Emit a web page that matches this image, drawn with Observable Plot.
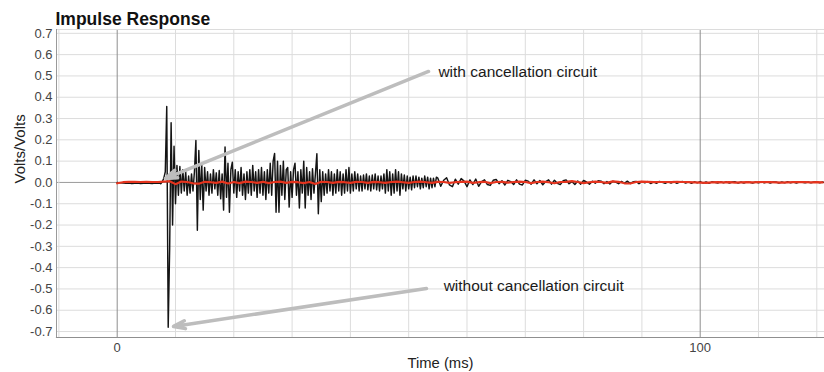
<!DOCTYPE html>
<html>
<head>
<meta charset="utf-8">
<script src="https://cdn.jsdelivr.net/npm/d3@7"></script>
<script src="https://cdn.jsdelivr.net/npm/@observablehq/plot@0.6"></script>
<style>
  html, body { margin: 0; padding: 0; background: #fff; }
</style>
</head>
<body>
<div id="chart"></div>
<script>
// ---- Data ----
const title = "Impulse Response";
const yLabel = "Volts/Volts";
const xLabel = "Time (ms)";
const yTicks = [-0.7, -0.6, -0.5, -0.4, -0.3, -0.2, -0.1, 0, 0.1, 0.2, 0.3, 0.4, 0.5, 0.6, 0.7];
const xGrid = [-10, 10, 20, 30, 40, 50, 60, 70, 80, 90, 110, 120];
const xMajor = [0, 100];
const xTickLabels = [0, 100];

// Without cancellation circuit (black): sampled segments
const noCancelEarlyStart = 0, noCancelEarlyStep = 0.5;
const noCancelEarly = [0, -0.002, -0.003, -0.004, -0.003, -0.005, -0.004, -0.003, -0.005, -0.004, -0.003, -0.004, -0.005, -0.003];

const noCancelMainStart = 7, noCancelMainStep = 0.25;
const noCancelMain = [
  -0.004, -0.003, -0.006, 0.004,
  0.02, 0.05, 0.357, -0.68,
  -0.31, 0.28, -0.2, 0.17,
  -0.1, 0.08, -0.06, 0.075,
  -0.05, 0.06, -0.04, 0.05,
  -0.06, 0.03, -0.05, 0.04,
  -0.04, 0.05, 0.197, -0.225,
  0.15, -0.08, 0.09, -0.13,
  0.07, -0.04, 0.05, -0.06,
  0.04, -0.05, 0.06, -0.03,
  0.045, -0.06, 0.056, -0.077,
  0.04, -0.13, 0.166, -0.07,
  0.09, -0.14, 0.06, 0.095,
  -0.05, 0.06, -0.07, 0.05,
  -0.04, 0.07, -0.06, 0.04,
  -0.08, 0.05, -0.05, 0.06,
  -0.06, 0.08, -0.04, 0.05,
  -0.07, 0.06, -0.05, 0.07,
  -0.06, 0.05, -0.08, 0.06,
  -0.05, 0.09, -0.06, 0.1,
  0.136, -0.14, 0.1, -0.14,
  0.08, -0.06, 0.1, -0.08,
  0.06, 0.07, -0.116, 0.05,
  -0.07, 0.06, 0.09, -0.06,
  0.05, -0.12, 0.06, -0.05,
  0.1, -0.12, 0.07, -0.06,
  0.05, -0.08, 0.064, -0.05,
  0.04, 0.135, -0.147, 0.06,
  -0.09, 0.05, -0.06, 0.04,
  -0.05, 0.06, -0.04, 0.05,
  -0.06, 0.04, -0.05, 0.06,
  -0.04, 0.05, -0.06, 0.04,
  -0.05, 0.06, -0.04, 0.07,
  -0.05, 0.04, -0.04, 0.05,
  -0.03, 0.04, -0.04, 0.03,
  -0.04, 0.035, -0.03, 0.04,
  -0.035, 0.03, -0.04, 0.035,
  -0.03, 0.04, -0.035, 0.03,
  -0.04, 0.03, -0.03, 0.04,
  -0.05, 0.06, -0.04, 0.05,
  -0.06, 0.04, -0.05, 0.06,
  -0.04, 0.05, -0.06, 0.04,
  -0.03, 0.035, -0.04, 0.03,
  -0.03, 0.025, -0.035, 0.03,
  -0.025, 0.03, -0.02, 0.025,
  -0.03, 0.02, -0.025, 0.03,
  -0.02, 0.025, -0.03, 0.02,
  -0.025, 0.02, -0.02, 0.025
];

const noCancelTailStart = 55, noCancelTailStep = 0.5;
const noCancelTail = [
  0.02, -0.018, 0.01, 0.022, -0.012, -0.02, 0.015, -0.008,
  0.018, 0.006, -0.02, 0.012, -0.01, 0.016, -0.018, 0.004,
  0.012, -0.01, -0.014, 0.01, 0.014, -0.006, 0.008, -0.012,
  0.01, 0.004, -0.01, 0.012, -0.008, -0.012, 0.01, 0.006,
  -0.008, 0.012, -0.006, 0.009, -0.011, 0.004, 0.012, -0.008,
  0.01, -0.004, -0.01, 0.008, 0.012, -0.006, 0.004, -0.01,
  0.007, -0.008, 0.009, 0.002, -0.008, 0.006, -0.004, 0.008,
  0.006, -0.006, 0.004, -0.007, 0.006, 0.002, -0.006, 0.005,
  -0.004, 0.006, -0.005, 0.003, 0.005, -0.006, 0.004, -0.002,
  0.004, -0.005, 0.003, -0.004, 0.005, 0.001, -0.004, 0.003,
  -0.003, 0.004, -0.004, 0.002, 0.004, -0.003, 0.003, -0.004,
  0.003, -0.002, 0.004, -0.003, 0.002, -0.004, 0.003, 0.001,
  -0.003, 0.003, -0.002, 0.003, -0.003, 0.002, 0.003, -0.003,
  0.002, -0.003, 0.003, 0.001, -0.003, 0.002, -0.002, 0.003,
  -0.002, 0.003, -0.003, 0.002, 0.002, -0.003, 0.002, -0.002,
  0.003, -0.002, 0.002, -0.003, 0.002, 0.001, -0.002, 0.002,
  -0.002, 0.002, 0.003, -0.002, 0.002, -0.002
];

// With cancellation circuit (red): one sample per ms from 0 ms
const withCancelStart = 0, withCancelStep = 1;
const withCancel = [
  -0.004, 0.001, 0.003, 0.003, 0.002, 0.003, 0.002, 0.002, 0.004, 0.006,
  -0.008, 0.004, 0.002, -0.004, -0.006, 0.003, 0.001, -0.002, 0.004, -0.005,
  0.002, -0.003, 0.004, 0.002, -0.002, 0.003, -0.003, 0.002, 0.004, -0.002,
  0.003, 0.001, -0.003, 0.002, -0.007, 0.003, 0.002, -0.002, 0.003, 0.001,
  -0.002, 0.003, 0.002, -0.002, 0.003, 0.001, -0.002, 0.002, 0.004, 0.001,
  -0.002, 0.002, 0.004, 0.001, -0.002, 0.003, 0.002, -0.002, 0.001, 0.003,
  0.004, -0.002, 0.001, 0.003, -0.003, 0.002, 0.003, -0.001, 0.002, 0.004,
  0.002, -0.003, 0.002, 0.004, 0.001, -0.004, 0.002, 0.003, 0.006, 0.002,
  -0.003, 0.001, 0.004, 0.002, -0.002, 0.005, 0.003, -0.004, -0.005, 0.002,
  0.004, 0.003, 0.001, 0.002, 0.002, 0.001, 0.003, 0.002, 0.001, 0.0,
  -0.001, -0.002, 0.0, 0.001, 0.0, 0.001, -0.001, 0.0, 0.001, 0.0,
  0.001, 0.002, 0.001, 0.0, -0.001, 0.0, 0.001, 0.002, 0.001, 0.0, 0.001, 0.0
];

// Annotations
const annoText = ["with cancellation circuit", "without cancellation circuit"];
const annoTextX = [55.1, 56.0];
const annoTextY = [0.52, -0.488];
const arrowX1 = [53.4, 53.05];
const arrowY1 = [0.521, -0.498];
const arrowX2 = [8.3, 9.66];
const arrowY2 = [0.019, -0.676];

// ---- Build tables ----
function samples(start, step, values) {
  return values.map((v, i) => ({t: start + i * step, v}));
}
const noCancel = [
  ...samples(noCancelEarlyStart, noCancelEarlyStep, noCancelEarly),
  ...samples(noCancelMainStart, noCancelMainStep, noCancelMain),
  ...samples(noCancelTailStart, noCancelTailStep, noCancelTail)
];
const withC = samples(withCancelStart, withCancelStep, withCancel);
const arrows = arrowX1.map((d, i) => ({x1: d, y1: arrowY1[i], x2: arrowX2[i], y2: arrowY2[i]}));
const labels = annoText.map((s, i) => ({s, x: annoTextX[i], y: annoTextY[i]}));

const font = "'Liberation Sans', Arial, Helvetica, sans-serif";

const chart = Plot.plot({
  width: 824,
  height: 372,
  marginLeft: 56,
  marginRight: 0,
  marginTop: 29,
  marginBottom: 35,
  style: {fontFamily: font, fontSize: "13px", background: "#fff", color: "#333", overflow: "visible"},
  x: {domain: [-10.41, 121.32]},
  y: {domain: [-0.728, 0.718]},
  marks: [
    // grid
    Plot.ruleY(yTicks.filter(d => d !== 0), {stroke: "#dcdcdc", strokeWidth: 1, strokeOpacity: 1}),
    Plot.ruleY([0], {stroke: "#9a9a9a", strokeWidth: 1}),
    Plot.ruleX(xGrid, {stroke: "#dcdcdc", strokeWidth: 1}),
    Plot.ruleX(xMajor, {stroke: "#8f8f8f", strokeWidth: 1}),
    Plot.frame({anchor: "top", stroke: "#dcdcdc"}),
    Plot.frame({anchor: "left", stroke: "#9a9a9a"}),
    Plot.frame({anchor: "bottom", stroke: "#8f8f8f", strokeWidth: 1.2}),
    // axes
    Plot.axisY({ticks: yTicks, tickSize: 0, tickPadding: 4, tickFormat: d => d.toFixed(1), label: null, fontSize: 13, fill: "#444"}),
    Plot.axisX({ticks: xTickLabels, tickSize: 0, tickPadding: 5, tickFormat: d => String(d), label: null, fontSize: 13, fill: "#444"}),
    Plot.text([xLabel], {frameAnchor: "bottom", dy: 26, lineAnchor: "middle", fontSize: 14.8, fill: "#222"}),
    Plot.text([yLabel], {frameAnchor: "left", dx: -36, rotate: -90, lineAnchor: "middle", fontSize: 15, fill: "#222"}),
    Plot.text([title], {frameAnchor: "top-left", dx: -1, dy: -5, textAnchor: "start", lineAnchor: "bottom", fontSize: 17.5, fontWeight: "bold", fill: "#111"}),
    // data
    Plot.line(noCancel, {x: "t", y: "v", stroke: "#141414", strokeWidth: 1.45}),
    Plot.line(withC, {x: "t", y: "v", stroke: "#e5341e", strokeWidth: 2.2}),
    // annotations
    Plot.arrow(arrows, {x1: "x1", y1: "y1", x2: "x2", y2: "y2", stroke: "#bdbdbd", strokeWidth: 3.5, headLength: 5.2, headAngle: 38}),
    Plot.text(labels, {x: "x", y: "y", text: "s", textAnchor: "start", lineAnchor: "middle", fontSize: 15.5, fill: "#1a1a1a"})
  ]
});
document.getElementById("chart").appendChild(chart);
</script>
</body>
</html>
